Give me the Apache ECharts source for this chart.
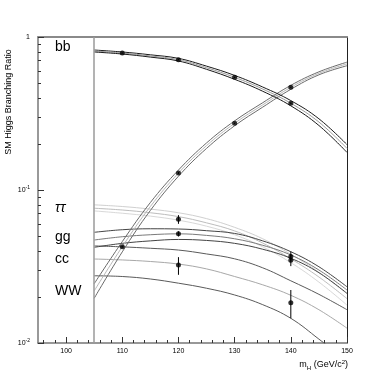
<!DOCTYPE html>
<html>
<head>
<meta charset="utf-8">
<script src="https://cdn.jsdelivr.net/npm/echarts@6.0.0/dist/echarts.min.js"></script>
<style>
  html, body { margin: 0; padding: 0; background: #fff; }
  #chart { width: 382px; height: 382px; }
</style>
</head>
<body>
<div id="chart"></div>
<script>
// --- Data ---
var masses = [105, 110, 115, 120, 125, 130, 135, 140, 145, 150];

var bbHi  = [0.822, 0.798, 0.765, 0.725, 0.645, 0.561, 0.471, 0.384, 0.292, 0.198];
var bbMid = [0.810, 0.786, 0.752, 0.711, 0.630, 0.545, 0.457, 0.369, 0.278, 0.187];
var bbLo  = [0.798, 0.774, 0.739, 0.697, 0.615, 0.529, 0.442, 0.355, 0.264, 0.176];

var wwHi  = [0.0244, 0.0460, 0.0828, 0.135, 0.203, 0.283, 0.372, 0.483, 0.592, 0.685];
var wwMid = [0.0219, 0.0426, 0.0780, 0.129, 0.195, 0.273, 0.360, 0.469, 0.579, 0.667];
var wwLo  = [0.0196, 0.0394, 0.0735, 0.123, 0.187, 0.263, 0.348, 0.455, 0.566, 0.649];

var ttHi  = [0.0800, 0.0780, 0.0750, 0.0710, 0.0650, 0.0570, 0.0480, 0.0380, 0.0290, 0.0210];
var ttMid = [0.0760, 0.0740, 0.0710, 0.0670, 0.0610, 0.0540, 0.0450, 0.0355, 0.0270, 0.0195];
var ttLo  = [0.0730, 0.0705, 0.0675, 0.0635, 0.0580, 0.0510, 0.0425, 0.0335, 0.0250, 0.0177];

var ggHi  = [0.0529, 0.0550, 0.0558, 0.0556, 0.0542, 0.0520, 0.0465, 0.0395, 0.0315, 0.0233];
var ggMid = [0.0471, 0.0495, 0.0510, 0.0517, 0.0505, 0.0480, 0.0435, 0.0376, 0.0300, 0.0222];
var ggLo  = [0.0422, 0.0448, 0.0465, 0.0475, 0.0468, 0.0448, 0.0410, 0.0358, 0.0288, 0.0211];

var ccHi  = [0.0431, 0.0425, 0.0416, 0.0405, 0.0382, 0.0355, 0.0310, 0.0255, 0.0208, 0.0165];
var ccMid = [0.0354, 0.0349, 0.0341, 0.0328, 0.0305, 0.0272, 0.0240, 0.0205, 0.0165, 0.0125];
var ccLo  = [0.0275, 0.0272, 0.0262, 0.0246, 0.0228, 0.0206, 0.0178, 0.0145, 0.0106, 0.0076];

// measured points: [mass, value, errLow, errHigh]
var bbPoints = [[110, 0.786, 0.780, 0.792], [120, 0.711, 0.705, 0.717], [130, 0.545, 0.540, 0.550], [140, 0.369, 0.364, 0.374]];
var wwPoints = [[110, 0.0426, 0.0420, 0.0432], [120, 0.129, 0.127, 0.131], [130, 0.273, 0.270, 0.276], [140, 0.469, 0.464, 0.474]];
var ttPoints = [[120, 0.0645, 0.0601, 0.0685], [140, 0.0348, 0.0318, 0.0380]];
var ggPoints = [[120, 0.0517, 0.0497, 0.0537], [140, 0.0368, 0.0340, 0.0396]];
var ccPoints = [[120, 0.0323, 0.0279, 0.0364], [140, 0.0183, 0.0145, 0.0222]];

var xLabelValues = [100, 110, 120, 130, 140, 150];
var xMinorTicks = [96, 98, 102, 104, 106, 108, 112, 114, 116, 118, 122, 124, 126, 128,
                   132, 134, 136, 138, 142, 144, 146, 148];
var yMajorTicks = [0.01, 0.1, 1];
var yMinorTicks = [0.02, 0.03, 0.04, 0.05, 0.06, 0.07, 0.08, 0.09,
                   0.2, 0.3, 0.4, 0.5, 0.6, 0.7, 0.8, 0.9];
var cutoffMass = 105;

var channelLabels = [
  { text: 'bb', top: 40 },
  { text: 'ττ', top: 201, italic: true },
  { text: 'gg', top: 230 },
  { text: 'cc', top: 252 },
  { text: 'WW', top: 284 }
];

(function () {
  'use strict';

  function pairs(values) {
    return masses.map(function (m, i) { return [m, values[i]]; });
  }

  function curve(values, color, width) {
    return {
      type: 'line',
      data: pairs(values),
      smooth: 0.4,
      showSymbol: false,
      symbol: 'none',
      clip: true,
      silent: true,
      lineStyle: { color: color, width: width || 1 },
      z: 2
    };
  }

  var allPoints = bbPoints.concat(wwPoints, ttPoints, ggPoints, ccPoints);

  var chart = echarts.init(document.getElementById('chart'), null, { renderer: 'canvas' });

  var series = [
    curve(ttHi, '#d0d0d0'), curve(ttMid, '#bdbdbd'), curve(ttLo, '#d8d8d8'),
    curve(ccHi, '#5a5a5a'), curve(ccMid, '#a8a8a8'), curve(ccLo, '#5a5a5a'),
    curve(ggHi, '#444'), curve(ggMid, '#7a7a7a'), curve(ggLo, '#444'),
    curve(wwHi, '#6a6a6a'), curve(wwMid, '#b8b8b8'), curve(wwLo, '#6a6a6a'),
    curve(bbHi, '#1a1a1a'), curve(bbMid, '#9a9a9a'), curve(bbLo, '#1a1a1a'),
    {
      type: 'custom',
      data: allPoints.map(function (p) { return [p[0], p[2], p[3]]; }),
      encode: { x: 0, y: [1, 2] },
      silent: true,
      z: 5,
      renderItem: function (params, api) {
        var a = api.coord([api.value(0), api.value(1)]);
        var b = api.coord([api.value(0), api.value(2)]);
        return {
          type: 'line',
          shape: { x1: a[0], y1: a[1], x2: b[0], y2: b[1] },
          style: { stroke: '#000', lineWidth: 1 }
        };
      }
    },
    {
      type: 'scatter',
      data: allPoints.map(function (p) { return [p[0], p[1]]; }),
      symbol: 'circle',
      symbolSize: 5,
      itemStyle: { color: '#000' },
      silent: true,
      z: 6,
      markLine: {
        silent: true,
        symbol: 'none',
        label: { show: false },
        lineStyle: { color: '#9a9a9a', width: 1.5, type: 'solid' },
        data: [{ xAxis: cutoffMass }]
      }
    }
  ];

  var textStyleBase = { fontFamily: 'Liberation Sans, Arial, sans-serif', fill: '#000' };

  var graphics = channelLabels.map(function (l) {
    return {
      type: 'text',
      left: 55,
      top: l.top,
      style: Object.assign({}, textStyleBase, {
        text: l.text,
        fontSize: 14,
        fontStyle: l.italic ? 'italic' : 'normal'
      })
    };
  });

  graphics.push({
    type: 'text',
    x: 9,
    y: 102,
    rotation: Math.PI / 2,
    style: Object.assign({}, textStyleBase, {
      text: 'SM Higgs Branching Ratio',
      fontSize: 9,
      align: 'center',
      verticalAlign: 'middle'
    })
  });

  graphics.push({
    type: 'text',
    right: 34,
    top: 359,
    style: Object.assign({}, textStyleBase, {
      text: 'm{sub|H} (GeV/c{sup|2})',
      fontSize: 9,
      rich: {
        sub: { fontSize: 6, verticalAlign: 'bottom', padding: [6, 0, 0, 0] },
        sup: { fontSize: 6, verticalAlign: 'top', padding: [0, 0, 5, 0] }
      }
    })
  });

  var labelFont = { fontFamily: 'Liberation Sans, Arial, sans-serif', fontSize: 7, color: '#000' };

  function frameAxis(position, color, width) {
    return {
      type: position === 'top' ? 'value' : 'log',
      min: position === 'top' ? 95 : 0.01,
      max: position === 'top' ? 150 : 1,
      position: position,
      axisLine: { show: true, lineStyle: { color: color, width: width } },
      axisTick: { show: false },
      axisLabel: { show: false },
      splitLine: { show: false }
    };
  }

  var option = {
    animation: false,
    backgroundColor: '#fff',
    grid: {
      left: 38, right: 35, top: 37, bottom: 39,
      show: false
    },
    xAxis: [
      {
        type: 'value',
        min: 95,
        max: 150,
        position: 'bottom',
        axisLine: { show: true, lineStyle: { color: '#777', width: 1.5 } },
        axisTick: { show: true, inside: true, length: 3, customValues: xMinorTicks, lineStyle: { color: '#333' } },
        axisLabel: Object.assign({ show: true, margin: 5, customValues: xLabelValues }, labelFont),
        splitLine: { show: false }
      },
      {
        type: 'value',
        min: 95,
        max: 150,
        position: 'bottom',
        axisLine: { show: false },
        axisTick: { show: true, inside: true, length: 6, customValues: xLabelValues, lineStyle: { color: '#333' } },
        axisLabel: { show: false },
        splitLine: { show: false }
      },
      frameAxis('top', '#8a8a8a', 2)
    ],
    yAxis: [
      {
        type: 'log',
        logBase: 10,
        min: 0.01,
        max: 1,
        position: 'left',
        axisLine: { show: true, lineStyle: { color: '#777', width: 1.5 } },
        axisTick: { show: true, inside: true, length: 3, customValues: yMinorTicks, lineStyle: { color: '#333' } },
        axisLabel: Object.assign({
          show: true,
          margin: 8,
          customValues: yMajorTicks,
          formatter: function (v) {
            if (v >= 0.99) return '1';
            if (v >= 0.099) return '10{s|-1}';
            return '10{s|-2}';
          },
          rich: { s: { fontSize: 5, verticalAlign: 'top', padding: [0, 0, 5, 0] } }
        }, labelFont),
        splitLine: { show: false }
      },
      {
        type: 'log',
        logBase: 10,
        min: 0.01,
        max: 1,
        position: 'left',
        axisLine: { show: false },
        axisTick: { show: true, inside: true, length: 6, customValues: yMajorTicks, lineStyle: { color: '#333' } },
        axisLabel: { show: false },
        splitLine: { show: false }
      },
      frameAxis('right', '#222', 1)
    ],
    graphic: graphics,
    series: series
  };

  chart.setOption(option);
})();
</script>
</body>
</html>
